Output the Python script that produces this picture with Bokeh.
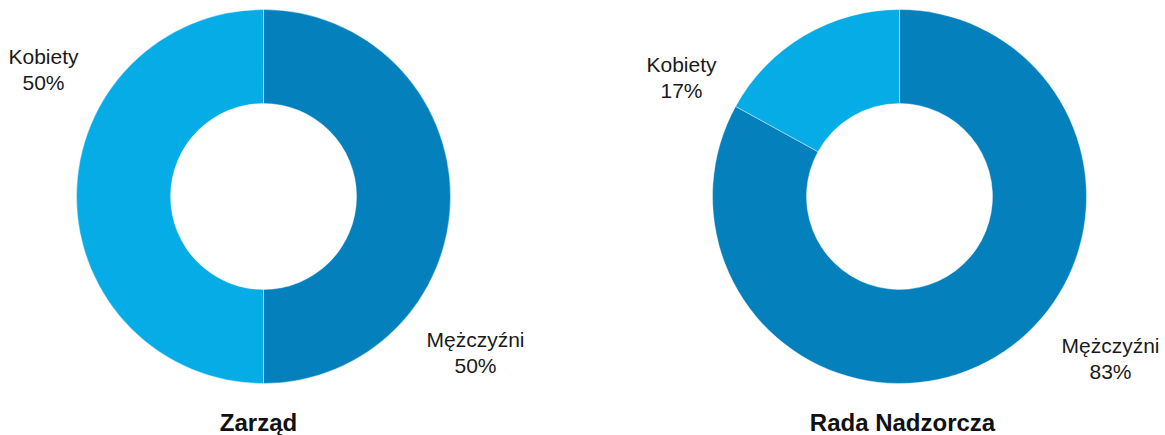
import math
from bokeh.plotting import figure
from bokeh.models import Range1d, ColumnDataSource
from bokeh.core.properties import value
from bokeh.embed import file_html
from bokeh.resources import INLINE

# Data
categories = ["Mężczyźni", "Kobiety"]
zarzad = [50, 50]
rada = [83, 17]
chart_titles = ["Zarząd", "Rada Nadzorcza"]
colors = ["#0480BD", "#05ACE5"]

W, H = 1165, 435
p = figure(width=W, height=H, output_backend="svg", toolbar_location=None,
           x_range=Range1d(0, W), y_range=Range1d(0, H),
           min_border=0, outline_line_color=None)
p.axis.visible = False
p.grid.visible = False
p.background_fill_color = "white"
p.border_fill_color = "white"

def sy(y):
    return H - y

centers = [(263, 196), (899, 196)]
R_OUT, R_IN = 187, 93
FONT = value("Liberation Sans")

# label positions (layout): per chart, per category (Mężczyźni, Kobiety)
label_pos = [[(475, 352), (43, 69)], [(1110, 358), (681, 77)]]
title_pos = [(258, 422), (902, 422)]

for ci, vals in enumerate([zarzad, rada]):
    cx, cy = centers[ci]
    total = sum(vals)
    starts, ends = [], []
    cum = 0.0
    for v in vals:
        starts.append(math.pi / 2 - 2 * math.pi * cum / total)
        cum += v
        ends.append(math.pi / 2 - 2 * math.pi * cum / total)
    src = ColumnDataSource(dict(x=[cx] * len(vals), y=[sy(cy)] * len(vals),
                                start=starts, end=ends, color=colors))
    p.annular_wedge(x="x", y="y", inner_radius=R_IN, outer_radius=R_OUT,
                    start_angle="start", end_angle="end", direction="clock",
                    fill_color="color", line_color="white", line_alpha=0.5,
                    line_width=0.8, source=src)
    lx = [label_pos[ci][k][0] for k in range(len(vals))]
    ly = [sy(label_pos[ci][k][1]) for k in range(len(vals))]
    txt = [f"{categories[k]}\n{vals[k]}%" for k in range(len(vals))]
    p.text(x=lx, y=ly, text=txt, text_align="center", text_baseline="middle",
           text_font=FONT, text_font_size="21px", text_color="#1a1a1a",
           text_line_height=1.15)
    tx, ty = title_pos[ci]
    p.text(x=[tx], y=[sy(ty)], text=[chart_titles[ci]], text_align="center",
           text_baseline="middle", text_font=FONT, text_font_size="24px",
           text_font_style="bold", text_color="#111111")

open("out.html", "w").write(file_html(p, INLINE))
